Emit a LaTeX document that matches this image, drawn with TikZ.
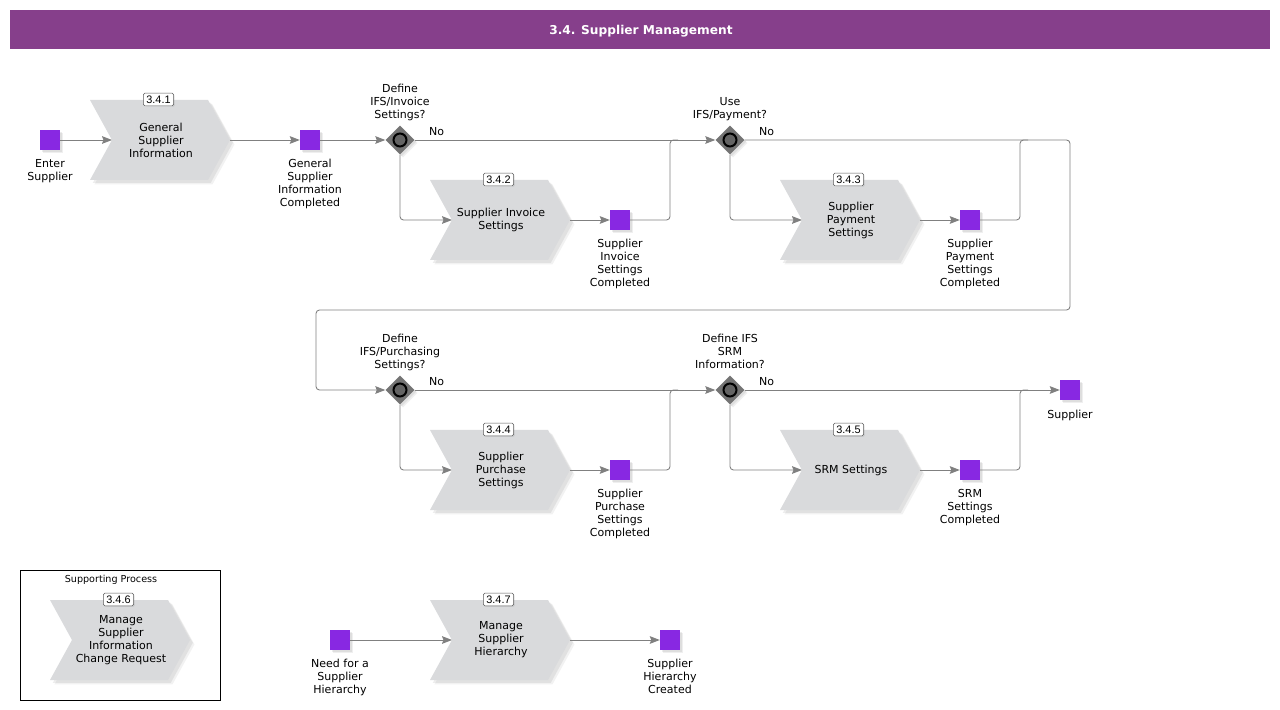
\documentclass[tikz,border=0pt]{standalone}
\usepackage{fontspec}
\setmainfont{DejaVu Sans}
\newfontfamily\numfont{Liberation Sans}
\usetikzlibrary{positioning,shapes.geometric,arrows.meta,shadows}
\definecolor{viola}{RGB}{136,40,226}
\definecolor{porpora}{RGB}{134,63,139}
\definecolor{grigioblocco}{RGB}{217,218,220}
\definecolor{grigiolinea}{RGB}{128,128,128}
\definecolor{grigiorombo}{RGB}{116,116,116}
\definecolor{grigioocchio}{RGB}{100,100,100}
\begin{document}
\begin{tikzpicture}[
			x=0.03cm, y=-0.03cm,
			linea/.style={draw=grigiolinea, line width=0.75pt, rounded corners=3pt},
			freccia/.style={linea, -{Stealth[length=8.5pt, width=6.5pt, inset=1.2pt]}},
			ombra/.style={drop shadow={shadow xshift=2.5pt, shadow yshift=-2.5pt, opacity=.12},
				drop shadow={shadow xshift=1.5pt, shadow yshift=-1.5pt, opacity=.15}},
			evento/.style={rectangle, fill=viola, minimum size=6mm, inner sep=0pt, ombra},
			decisione/.style={diamond, fill=grigiorombo, minimum size=8.7mm, inner sep=0pt, ombra},
			occhio/.style={circle, draw=black, line width=1.7pt, fill=grigioocchio, minimum size=3.9mm, inner sep=0pt},
			blocco/.style={fill=grigioblocco,
				drop shadow={shadow xshift=3.8pt, shadow yshift=-3.8pt, opacity=.10},
				drop shadow={shadow xshift=2.4pt, shadow yshift=-2.4pt, opacity=.14}},
			testo/.style={font=\fontsize{9.4}{11.1}\selectfont, align=center, inner sep=0pt},
			etich/.style={testo, execute at begin node=\strut, execute at end node=\strut},
			numero/.style={draw=black!65, fill=white, rounded corners=1.2pt, font=\numfont\fontsize{9.3}{10}\selectfont,
				inner xsep=2.6pt, inner ysep=2pt, text height=6.7pt, text depth=0pt,
				drop shadow={shadow xshift=1pt, shadow yshift=-1pt, opacity=.15}},
			titolo/.style={text=white, font=\bfseries\fontsize{10.4}{12}\selectfont},
			piccolo/.style={font=\fontsize{8.2}{10}\selectfont, inner sep=0pt},
			]
			
			\newcommand{\attivita}[5]{%
				\begin{scope}[shift={(#2,#3)}]
					\path[blocco](0,-40)--(118,-40)--(140,0)--(118,40)--(0,40)--(22,0)--cycle;
					\coordinate (#1-in) at (22,0);
					\coordinate (#1-out) at (140,0);
					\node[testo] (#1) at (71,0) {#5};
					\node[numero] (#1-n) at (68.5,-40.5) {#4};
			\end{scope}}
			
			%% sfondo e margini
			\fill[white](0,0) rectangle (1280,710);
			\useasboundingbox (0,0) rectangle (1280,710);
			
			%% =========================================================
			%% TITOLO
			%% =========================================================
			\fill[porpora](10,10) rectangle (1270,49);
			\node[titolo] (tit) at (641,31) {3.4. Supplier Management};
			
			%% =========================================================
			%% ATTIVITA'
			%% =========================================================
			\attivita{a1}{90}{140}{3.4.1}{General\\Supplier\\Information}
			\attivita{a2}{430}{220}{3.4.2}{Supplier Invoice\\Settings}
			\attivita{a3}{780}{220}{3.4.3}{Supplier\\Payment\\Settings}
			\attivita{a4}{430}{470}{3.4.4}{Supplier\\Purchase\\Settings}
			\attivita{a5}{780}{470}{3.4.5}{SRM Settings}
			\attivita{a6}{50}{640}{3.4.6}{Manage\\Supplier\\Information\\Change Request}
			\attivita{a7}{430}{640}{3.4.7}{Manage\\Supplier\\Hierarchy}
			
			%% =========================================================
			%% EVENTI
			%% =========================================================
			\foreach \n/\x/\y/\t in {e1/50/140/{Enter\\Supplier},
				e2/310/140/{General\\Supplier\\Information\\Completed},
				e3/620/220/{Supplier\\Invoice\\Settings\\Completed},
				e4/970/220/{Supplier\\Payment\\Settings\\Completed},
				e5/620/470/{Supplier\\Purchase\\Settings\\Completed},
				e6/970/470/{SRM\\Settings\\Completed},
				e7/1070/390/{Supplier},
				e8/340/640/{Need for a\\Supplier\\Hierarchy},
				e9/670/640/{Supplier\\Hierarchy\\Created}}{
				\node[evento] (\n) at (\x,\y) {};
				\node[etich, below=7.3pt of \n] (\n-t) {\t};}
			
			%% =========================================================
			%% DECISIONI
			%% =========================================================
			\foreach \n/\x/\y/\t in {g1/400/140/{Define\\IFS/Invoice\\Settings?},
				g2/730/140/{Use\\IFS/Payment?},
				g3/400/390/{Define\\IFS/Purchasing\\Settings?},
				g4/730/390/{Define IFS\\SRM\\Information?}}{
				\node[decisione] (\n) at (\x,\y) {};
				\node[occhio] (\n-c) at (\n) {};
				\node[etich, above=2pt of \n] (\n-t) {\t};
				\node[etich, anchor=base west] (\n-no) at ([xshift=12pt, yshift=3.8pt]\n.east) {No};}
			
			%% punti di ricongiungimento
			\coordinate (j1) at (670,140);
			\coordinate (j2) at (1020,140);
			\coordinate (j3) at (670,390);
			\coordinate (j4) at (1020,390);
			\coordinate (r1) at (1070,310);
			\coordinate (r2) at (316,390);
			
			%% =========================================================
			%% CONNESSIONI
			%% =========================================================
			%% prima riga
			\draw[freccia](e1)--(a1-in);
			\draw[freccia](a1-out)--(e2);
			\draw[freccia](e2)--(g1);
			\draw[freccia](g1)--(g2);
			\draw[freccia](g1)|-(a2-in);
			\draw[freccia](a2-out)--(e3);
			\draw[linea](e3)-|(j1)--++(8,0);
			\draw[freccia](g2)-|(r1)-|(r2)--(g3);
			\draw[freccia](g2)|-(a3-in);
			\draw[freccia](a3-out)--(e4);
			\draw[linea](e4)-|(j2)--++(8,0);
			%% seconda riga
			\draw[freccia](g3)--(g4);
			\draw[freccia](g3)|-(a4-in);
			\draw[freccia](a4-out)--(e5);
			\draw[linea](e5)-|(j3)--++(8,0);
			\draw[freccia](g4)--(e7);
			\draw[freccia](g4)|-(a5-in);
			\draw[freccia](a5-out)--(e6);
			\draw[linea](e6)-|(j4)--++(8,0);
			%% gerarchia
			\draw[freccia](e8)--(a7-in);
			\draw[freccia](a7-out)--(e9);
			
			%% =========================================================
			%% PROCESSO DI SUPPORTO
			%% =========================================================
			\draw[black, line width=0.8pt](20,570) rectangle (220,700);
			\node[piccolo] (sp) at (111,580) {Supporting Process};
			
	\end{tikzpicture}
\end{document}
